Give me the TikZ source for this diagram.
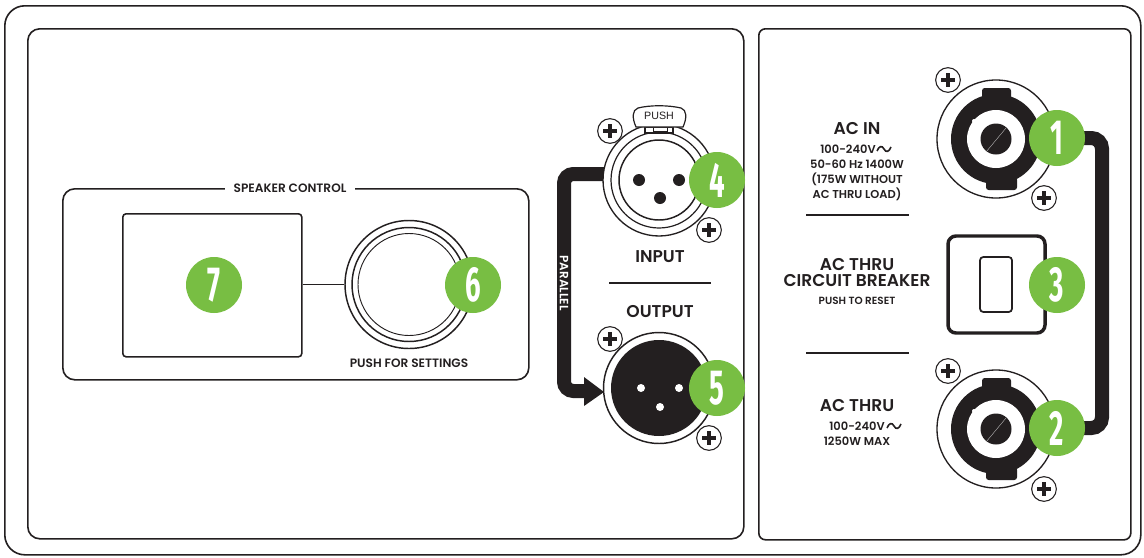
\documentclass[tikz,border=0pt]{standalone}
\usepackage{fontspec}
\setmainfont{Poppins}[UprightFont=* SemiBold]
\newfontfamily\numfont{Fira Sans}[UprightFont=* Bold]
\newfontfamily\thinfont{Liberation Sans}
\definecolor{ink}{HTML}{231F20}
\definecolor{leaf}{HTML}{78BE43}
\tikzset{
  px/.style={x=0.75pt,y=-0.75pt},
  panel/.style={draw=ink,line width=1.2pt,rounded corners=9pt},
  heavy/.style={draw=ink,line width=10.5pt,line cap=butt},
  thinline/.style={draw=ink,line width=1.1pt},
  badge/.style={circle,fill=leaf,minimum size=42pt,inner sep=0pt,text=white,font=\numfont\fontsize{37}{37}\selectfont},
  screw/.style={circle,draw=ink,fill=white,line width=.8pt,minimum size=18.5pt,inner sep=0pt},
  lbig/.style={text=ink,inner sep=0pt,font=\fontsize{12.8}{14}\selectfont},
  lsmall/.style={text=ink,inner sep=0pt,font=\fontsize{9.1}{10}\selectfont},
}
\newcommand{\badgetext}[1]{\scalebox{0.56}[1]{#1}}
\newcommand{\plusmark}[1]{\fill[ink] ($(#1)+(-7,-1.8)$) rectangle ($(#1)+(7,1.8)$); \fill[ink] ($(#1)+(-1.8,-7)$) rectangle ($(#1)+(1.8,7)$);}
\newcommand{\tildemark}[2]{\draw[ink,line width=1.2pt] (#1,#2+2) .. controls (#1+2,#2-3) and (#1+5,#2-4) .. (#1+7,#2) .. controls (#1+9,#2+4) and (#1+12,#2+3) .. (#1+14,#2-2);}
\usetikzlibrary{calc}
\begin{document}
\begin{tikzpicture}[px]
\useasboundingbox (0,0) rectangle (1144,557);
\fill[white] (0,0) rectangle (1144,557);
% frames
\node[panel,minimum width=1136*.75pt,minimum height=549*.75pt,anchor=north west,inner sep=0pt,rounded corners=15pt] (outer) at (4,5) {};
\node[panel,minimum width=716*.75pt,minimum height=510*.75pt,anchor=north west,inner sep=0pt] (left) at (27,28) {};
\node[panel,minimum width=372*.75pt,minimum height=511*.75pt,anchor=north west,inner sep=0pt,rounded corners=5pt] (right) at (758,28) {};
% speaker control
\node[panel,minimum width=466*.75pt,minimum height=191*.75pt,anchor=north west,inner sep=0pt] (ctrl) at (62,188) {};
\fill[white] (225,180) rectangle (355,196);
\node[lsmall] (ctrltitle) at (290,188) {SPEAKER CONTROL};
\node[draw=ink,line width=1.2pt,fill=white,rounded corners=2.5pt,minimum width=179*.75pt,minimum height=143*.75pt,anchor=north west,inner sep=0pt] (screen) at (122,213) {};
\node[circle,draw=ink,line width=1.1pt,fill=white,minimum size=128*.75pt,inner sep=0pt] (knob) at (409,284.5) {};
\draw[ink,line width=1.1pt] (409,284.5) circle[radius=57];
\draw[ink,line width=.7pt] (409,284.5) circle[radius=51];
\draw[thinline] (screen.east |- knob.west) -- (knob.west);
\node[lsmall] (pushset) at (409,363) {PUSH FOR SETTINGS};
\node[badge] (b7) at (214,285) {\badgetext{7}};
% parallel arrow
\coordinate (pstart) at (606,174);
\coordinate (pcornerA) at (564,174);
\coordinate (pcornerB) at (564,391);
\coordinate (pend) at (586,391);
\draw[heavy,rounded corners=7pt] (pstart) -- (pcornerA) -- (pcornerB) -- (pend);
\fill[ink] (584,377) -- (604,392) -- (584,406) -- cycle;
\node[text=white,inner sep=0pt,rotate=-90,font=\fontsize{9}{10}\selectfont] (par) at (564,283) {PARALLEL};
% input XLR
\node[circle,draw=ink,line width=1pt,fill=white,minimum size=112*.75pt,inner sep=0pt] (xin) at (659,180) {};
\draw[ink,line width=.9pt] (659,180) circle[radius=48];
\draw[ink,line width=1.1pt] (659,180) circle[radius=40];
\foreach \p/\q in {639/180,679/180,660/198}{\fill[ink] (\p,\q) circle[radius=6];}
\draw[ink,line width=.8pt,fill=white] (645,127) rectangle (673,133);
\draw[ink,line width=.7pt,fill=white] (653,127) rectangle (667,131);
\draw[ink,line width=.9pt,fill=white] (636,127) .. controls (632,118) and (632,110) .. (638,108) .. controls (650,105) and (668,105) .. (681,108) .. controls (687,110) and (687,118) .. (683,127) -- cycle;
\node[text=ink,inner sep=0pt,font=\thinfont\fontsize{8}{9}\selectfont] (pushtab) at (659,116) {PUSH};
\node[screw] (s4a) at (610,131) {}; \plusmark{s4a}
\node[screw] (s4b) at (709,230) {}; \plusmark{s4b}
\node[badge] (b4) at (717,180) {\badgetext{4}};
\node[lbig] (input) at (660,257) {INPUT};
\draw[thinline] (609,283) -- (711,283);
\node[lbig] (output) at (660,312) {OUTPUT};
% output XLR
\node[circle,draw=ink,line width=1.1pt,fill=white,minimum size=111*.75pt,inner sep=0pt] (xout) at (659,388) {};
\fill[ink] (659,388) circle[radius=48];
\foreach \p/\q in {641/388,679/388,660/407}{\fill[white] (\p,\q) circle[radius=4];}
\node[screw] (s5a) at (610,339) {}; \plusmark{s5a}
\node[screw] (s5b) at (709,438) {}; \plusmark{s5b}
\node[badge] (b5) at (717,388) {\badgetext{5}};
\node[badge] (b6) at (473,285) {\badgetext{6}};
% link 1-2
\coordinate (lstart) at (1080,138);
\coordinate (lcornerA) at (1102,138);
\coordinate (lcornerB) at (1102,428);
\coordinate (lend) at (1080,428);
\draw[heavy,rounded corners=8pt] (lstart) -- (lcornerA) -- (lcornerB) -- (lend);
% speakon connectors
\foreach \cy/\nm in {139/1,429/2}{
  \begin{scope}[yshift=\cy*-0.75pt]
    \draw[ink,line width=1pt,fill=white] (996,0) circle[radius=59];
    \fill[ink] (996,0) circle[radius=45];
    \fill[ink,rounded corners=2pt] (982,-51) rectangle (1011,-38);
    \fill[ink,rounded corners=2pt] (986,38) rectangle (1017,51);
    \fill[white] (996,0) circle[radius=29];
    \fill[white] (974,-18) circle[radius=2];
    \fill[ink] (996,0) circle[radius=15.5];
    \draw[white!70!ink,line width=.3pt] (986,13) -- (1006,-11);
  \end{scope}
}
\node[screw] (s1a) at (948,80) {}; \plusmark{s1a}
\node[screw] (s1b) at (1044,198) {}; \plusmark{s1b}
\node[screw] (s2a) at (948,371) {}; \plusmark{s2a}
\node[screw] (s2b) at (1044,489) {}; \plusmark{s2b}
% breaker
\node[draw=ink,line width=2.6pt,rounded corners=6pt,minimum width=97*.75pt,minimum height=97*.75pt,inner sep=0pt] (brk) at (996.5,284.5) {};
\node[draw=ink,line width=1.3pt,rounded corners=2.5pt,minimum width=32*.75pt,minimum height=55*.75pt,inner sep=0pt] (brkin) at (996,284.5) {};
\node[badge] (b1) at (1057,138) {\badgetext{1}};
\node[badge] (b2) at (1057,428) {\badgetext{2}};
\node[badge] (b3) at (1057,285) {\badgetext{3}};
% right labels
\node[lbig] (acin) at (857,129) {AC IN};
\node[lsmall,font=\fontsize{8.6}{10}\selectfont] (a1) at (848,149) {100-240V};
\tildemark{877}{149}
\node[lsmall,font=\fontsize{8.6}{10}\selectfont] (a2) at (857,164) {50-60 Hz 1400W};
\node[lsmall,font=\fontsize{8.6}{10}\selectfont] (a3) at (857,179) {(175W WITHOUT};
\node[lsmall,font=\fontsize{8.6}{10}\selectfont] (a4) at (857,194) {AC THRU LOAD)};
\draw[thinline] (806,215) -- (909,215);
\node[lbig] (ct1) at (857,265) {AC THRU};
\node[lbig] (ct2) at (857,281) {CIRCUIT BREAKER};
\node[lsmall,font=\fontsize{7.8}{9}\selectfont] (ct3) at (857,301) {PUSH TO RESET};
\draw[thinline] (806,353) -- (909,353);
\node[lbig] (at1) at (857,406) {AC THRU};
\node[lsmall,font=\fontsize{8.6}{10}\selectfont] (at2) at (857,426) {100-240V};
\tildemark{887}{426}
\node[lsmall,font=\fontsize{8.6}{10}\selectfont] (at3) at (857,441) {1250W MAX};
\end{tikzpicture}
\end{document}
